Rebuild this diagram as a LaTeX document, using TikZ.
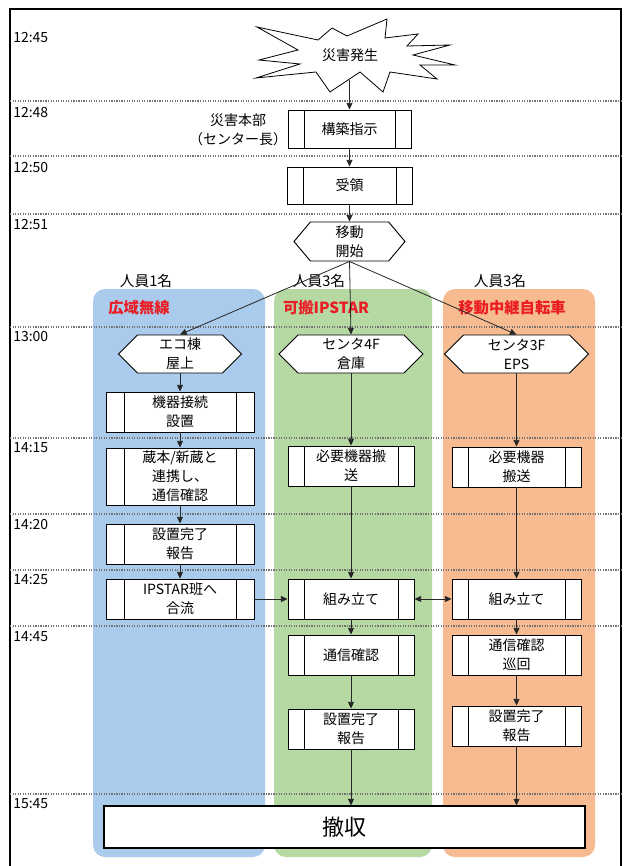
\documentclass[tikz,border=0pt]{standalone}
\usepackage{fontspec}
\setmainfont{Noto Sans CJK JP}
\usetikzlibrary{arrows.meta,shapes.symbols}
\definecolor{laneblue}{RGB}{171,203,236}
\definecolor{lanegreen}{RGB}{182,216,163}
\definecolor{laneorange}{RGB}{246,187,144}
\definecolor{labred}{RGB}{234,28,36}
\begin{document}
\begin{tikzpicture}[x=0.75pt,y=-0.75pt,
  txt/.style={font=\fontsize{10.5}{14.2}\selectfont, align=center},
  proc/.style={draw, fill=white, line width=0.7pt, rectangle, inner sep=0pt, txt,
    path picture={\draw[line width=0.7pt]
      ([xshift=#1]path picture bounding box.north west) -- ([xshift=#1]path picture bounding box.south west)
      ([xshift=-#1]path picture bounding box.north east) -- ([xshift=-#1]path picture bounding box.south east);}},
  proc/.default=12pt,
  hexa/.style={signal, signal to=west and east, signal pointer angle=#1, draw, fill=white,
    line width=0.7pt, inner sep=0pt, txt},
  hexa/.default=90,
  lane/.style={rounded corners=9pt, draw=none},
  rowline/.style={draw=black!55, densely dotted, line width=0.9pt},
  timelab/.style={anchor=west, inner sep=0pt, font=\fontsize{10.5}{12}\selectfont},
  head/.style={font=\fontsize{11}{13}\selectfont},
  lanetitle/.style={font=\fontsize{11.5}{14}\selectfont\bfseries, text=labred},
  arr/.style={draw=black!85, line width=0.6pt, -{Triangle[length=5pt,width=4.5pt]}},
  darr/.style={draw=black!85, line width=0.6pt, {Triangle[length=5pt,width=4.5pt]}-{Triangle[length=5pt,width=4.5pt]}},
  plain/.style={draw=black!85, line width=0.6pt}
]
\useasboundingbox (0,0) rectangle (626,866);

% lanes
\fill[lane, laneblue] (93,289) rectangle (265,857);
\fill[lane, lanegreen] (274,289) rectangle (432,857);
\fill[lane, laneorange] (443,289) rectangle (595,857);

% frame
\draw[line width=1.3pt] (10,900) -- (10,9) -- (621,9) -- (621,900);

% row lines
\foreach \yy in {101,156,214,327,438,514,570,626,794}
  \draw[rowline] (10,\yy) -- (621,\yy);

% time labels
\node[timelab] (t1) at (13,38) {12:45};
\node[timelab] (t2) at (13,113) {12:48};
\node[timelab] (t3) at (13,168) {12:50};
\node[timelab] (t4) at (13,225) {12:51};
\node[timelab] (t5) at (13,337) {13:00};
\node[timelab] (t6) at (13,448) {14:15};
\node[timelab] (t7) at (13,525) {14:20};
\node[timelab] (t8) at (13,580) {14:25};
\node[timelab] (t9) at (13,637) {14:45};
\node[timelab] (t10) at (13,804) {15:45};

% starburst
\draw[line width=0.6pt, fill=white]
  (257,27) -- (318,40) -- (332,28) -- (347,36) -- (387,19) -- (385,38) -- (418,34) -- (407,46)
  -- (450,45) -- (413,55) -- (455,65) -- (420,65) -- (437,79) -- (390,72) -- (383,92) -- (360,72)
  -- (330,92) -- (316,72) -- (256,78) -- (300,64) -- (259,60) -- (298,50) -- cycle;
\node[txt] (burst) at (350,55) {災害発生};
\coordinate (burstfoot) at (349.5,80);

% top chain
\node[txt] (hq) at (238,129.5) {災害本部\\（センター長）};
\node[proc, minimum width=92.25pt, minimum height=28.5pt] (k1) at (349.5,129) {構築指示};
\node[proc, minimum width=93.75pt, minimum height=27.75pt] (k2) at (349.5,185.5) {受領};
\node[hexa=100, minimum width=83.25pt, minimum height=29.25pt] (h0) at (349.5,241.5) {移動\\開始};

% lane headers
\node[head] (p1) at (146,281) {人員1名};
\node[head] (p2) at (319,281) {人員3名};
\node[head] (p3) at (500,281) {人員3名};
\node[lanetitle] (l1) at (139,308) {広域無線};
\node[lanetitle] (l2) at (326,308) {可搬IPSTAR};
\node[lanetitle] (l3) at (512,308) {移動中継自転車};

% hexagons
\node[hexa, minimum width=92.25pt, minimum height=28.5pt] (h1) at (180,354) {エコ棟\\屋上};
\node[hexa, minimum width=108pt, minimum height=28.5pt] (h2) at (351,354) {センタ4F\\倉庫};
\node[hexa, minimum width=108pt, minimum height=28.5pt] (h3) at (516.5,354) {センタ3F\\EPS};

% left lane
\node[proc=13.5pt, minimum width=111pt, minimum height=30pt] (a1) at (180,412) {機器接続\\設置};
\node[proc=13.5pt, minimum width=111pt, minimum height=42.75pt] (a2) at (180,476.5) {蔵本/新蔵と\\連携し、\\通信確認};
\node[proc=13.5pt, minimum width=111pt, minimum height=30pt] (a3) at (180,544) {設置完了\\報告};
\node[proc=13.5pt, minimum width=111pt, minimum height=30pt] (a4) at (180,599) {IPSTAR班へ\\合流};

% middle lane
\node[proc, minimum width=94.5pt, minimum height=30pt] (b1) at (351,466) {必要機器搬\\送};
\node[proc, minimum width=94.5pt, minimum height=30pt] (b2) at (351,599) {組み立て};
\node[proc, minimum width=94.5pt, minimum height=30pt] (b3) at (351,655) {通信確認};
\node[proc, minimum width=94.5pt, minimum height=30pt] (b4) at (351,729) {設置完了\\報告};

% right lane
\node[proc, minimum width=96.75pt, minimum height=30pt] (c1) at (516.5,467) {必要機器\\搬送};
\node[proc, minimum width=96.75pt, minimum height=30pt] (c2) at (516.5,599) {組み立て};
\node[proc, minimum width=96.75pt, minimum height=30pt] (c3) at (516.5,655) {通信確認\\巡回};
\node[proc, minimum width=96.75pt, minimum height=30pt] (c4) at (516.5,726) {設置完了\\報告};

% final
\node[draw, fill=white, line width=0.8pt, minimum width=360.75pt, minimum height=31.5pt, inner sep=0pt,
  font=\fontsize{16.5}{18}\selectfont] (tx) at (344.5,827) {撤収};

% connectors
\draw[arr] (burstfoot) -- (k1.north);
\draw[arr] (k1.south) -- (k2.north);
\draw[arr] (k2.south) -- (h0.north);
\draw[arr] (h0.south) -- (h1.north);
\draw[arr] (h0.south) -- (h2.north);
\draw[arr] (h0.south) -- (h3.north);

\draw[arr] (h1.south) -- (a1.north);
\draw[arr] (a1.south) -- (a2.north);
\draw[arr] (a2.south) -- (a3.north);
\draw[arr] (a3.south) -- (a4.north);

\draw[arr] (h2.south) -- (b1.north);
\draw[arr] (b1.south) -- (b2.north);
\draw[arr] (b2.south) -- (b3.north);
\draw[arr] (b3.south) -- (b4.north);
\draw[arr] (b4.south) -- (b4.south |- tx.north);

\draw[arr] (h3.south) -- (c1.north);
\draw[arr] (c1.south) -- (c2.north);
\draw[arr] (c2.south) -- (c3.north);
\draw[arr] (c3.south) -- (c4.north);
\draw[arr] (c4.south) -- (c4.south |- tx.north);

\draw[arr] (a4.east) -- (b2.west);
\draw[darr] (b2.east) -- (c2.west);
\end{tikzpicture}
\end{document}
